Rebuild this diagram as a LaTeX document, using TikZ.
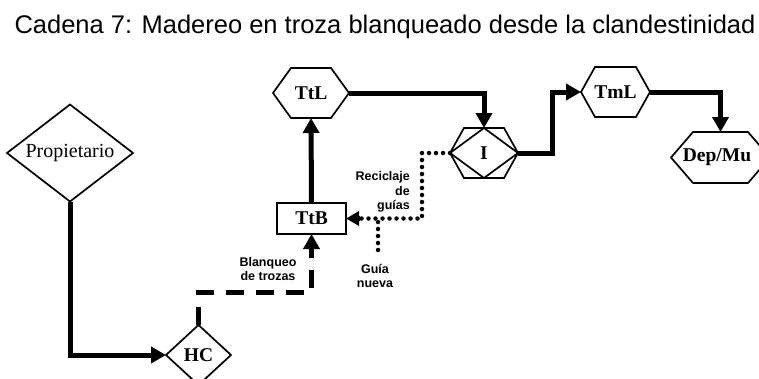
\documentclass[tikz,border=0pt]{standalone}
\usepackage{fontspec}
\setmainfont{Liberation Serif}
\setsansfont{Liberation Sans}
\usetikzlibrary{arrows.meta}
\tikzset{
  outline/.style={line width=1.7pt, line join=miter},
  box/.style={draw=none, inner sep=0pt, outer sep=0pt, rectangle, font=\fontsize{19.5}{22}\selectfont\bfseries},
  flow/.style={line width=5pt, -{Triangle[length=15pt,width=16pt]}},
  dashflow/.style={line width=5pt, dash pattern=on 18pt off 12pt, -{Triangle[length=15pt,width=16pt]}},
  dotflow/.style={line width=4.5pt, line cap=round, dash pattern=on 0pt off 7pt},
  lab/.style={font=\sffamily\bfseries\fontsize{12.5}{14.5}\selectfont, inner sep=0pt}
}
\newcommand\hexa[2]{\draw[outline] (#1.west) -- ([xshift=#2]#1.north west) -- ([xshift=-#2]#1.north east) -- (#1.east) -- ([xshift=-#2]#1.south east) -- ([xshift=#2]#1.south west) -- cycle;}
\newcommand\diam[1]{\draw[outline] (#1.west) -- (#1.north) -- (#1.east) -- (#1.south) -- cycle;}
\begin{document}
\begin{tikzpicture}[x=1pt,y=-1pt]
\useasboundingbox (0,0) rectangle (759,378);
\clip (0,0) rectangle (759,378);
\node[font=\sffamily\fontsize{25.5}{30}\selectfont, inner sep=0pt] (title) at (385,27) {Cadena 7: Madereo en troza blanqueado desde la clandestinidad};

% nodes
\node[box, minimum width=126pt, minimum height=97pt, font=\fontsize{20}{22}\selectfont] (prop) at (70,153) {Propietario};
\diam{prop}
\node[box, minimum width=65pt, minimum height=60pt] (hc) at (198.5,355) {HC};
\diam{hc}
\node[box, draw, line width=1.7pt, minimum width=69pt, minimum height=31pt] (ttb) at (311.5,218.5) {TtB};
\node[box, minimum width=76pt, minimum height=50pt] (ttl) at (311,93) {TtL};
\hexa{ttl}{18pt}
\node[box, minimum width=68pt, minimum height=50pt] (i) at (484,153) {I};
\hexa{i}{14pt}
\diam{i}
\node[box, minimum width=69pt, minimum height=50pt] (tml) at (615.5,92) {TmL};
\hexa{tml}{14pt}
\node[box, minimum width=99pt, minimum height=51pt] (dep) at (720.5,157.5) {};
\hexa{dep}{22pt}
\node[box] (deptext) at (717,157.5) {Dep/Mu};

% coordinates
\coordinate (bq) at (311.5,292);
\coordinate (up) at (552,92);
\coordinate (rc) at (422,218.5);
\coordinate (gn) at (378,250);

% connectors
\draw[flow] (prop.south) |- (hc.west);
\draw[dashflow] (hc.north) |- (bq) -- (ttb.south);
\draw[flow] (ttb.north) -- (ttl.south);
\draw[flow] (ttl.east) -| (i.north);
\draw[flow] (i.east) -| (up) -- (tml.west);
\draw[flow] (tml.east) -| (dep.north);
\draw[dotflow] (i.west) -| (rc) -- ([xshift=14pt]ttb.east);
\draw[line width=4.5pt, -{Triangle[length=13pt,width=14pt]}] ([xshift=14pt]ttb.east) -- (ttb.east);
\draw[dotflow] (gn) -- (gn |- ttb.east);

% labels
\node[lab, align=right, anchor=east] (rl) at (410,192) {Reciclaje\\de\\guías};
\node[lab, align=center] (bl) at (268,269) {Blanqueo\\de trozas};
\node[lab, align=center] (gl) at (375,276) {Guía\\nueva};
\end{tikzpicture}
\end{document}
